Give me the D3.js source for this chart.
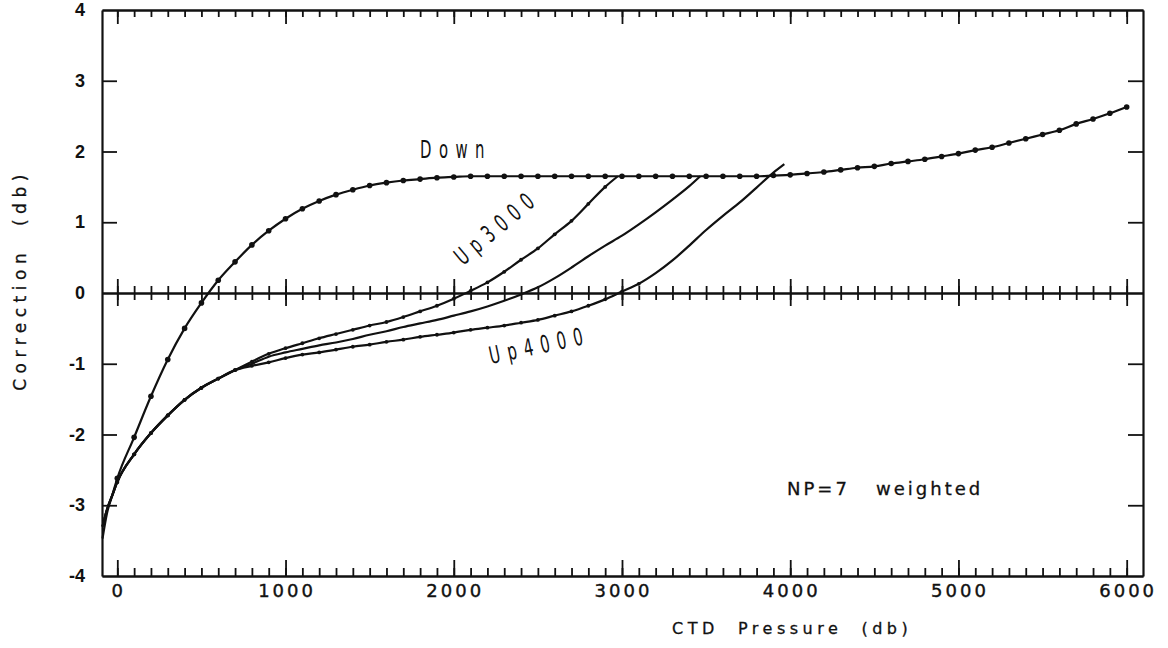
<!DOCTYPE html>
<html>
<head>
<meta charset="utf-8">
<script src="https://cdn.jsdelivr.net/npm/d3@7"></script>
<style>
  body { margin: 0; background: #fff; }
  svg { display: block; }
  .axis path, .axis line { stroke: #111; }
  .axis path { stroke-width: 2.2; }
  .axis line { stroke-width: 1.8; }
</style>
</head>
<body>
<svg id="visualisation" width="1168" height="648"></svg>
<script>
// tick labels
var xTickLabels = [0, 1000, 2000, 3000, 4000, 5000, 6000];
var xMinorTicks = [0, 100, 200, 300, 400, 500, 600, 700, 800, 900, 1000, 1100, 1200, 1300, 1400, 1500, 1600, 1700, 1800, 1900,
    2000, 2100, 2200, 2300, 2400, 2500, 2600, 2700, 2800, 2900, 3000, 3100, 3200, 3300, 3400, 3500, 3600, 3700, 3800, 3900,
    4000, 4100, 4200, 4300, 4400, 4500, 4600, 4700, 4800, 4900, 5000, 5100, 5200, 5300, 5400, 5500, 5600, 5700, 5800, 5900, 6000];
var yTickLabels = [4, 3, 2, 1, 0, -1, -2, -3, -4];

// series: [CTD pressure (db), correction (db)]
var downPts = [[-88, -3.47], [-60, -3.1], [-30, -2.86], [0, -2.62], [100, -2.04], [200, -1.46], [300, -0.94], [400, -0.5],
    [500, -0.14], [600, 0.18], [700, 0.44], [800, 0.68], [900, 0.88], [1000, 1.05], [1100, 1.19], [1200, 1.3], [1300, 1.39],
    [1400, 1.46], [1500, 1.52], [1600, 1.56], [1700, 1.59], [1800, 1.61], [1900, 1.63], [2000, 1.64], [2100, 1.65],
    [2200, 1.65], [2300, 1.65], [2400, 1.65], [2500, 1.65], [2600, 1.65], [2700, 1.65], [2800, 1.65], [2900, 1.65],
    [3000, 1.65], [3100, 1.65], [3200, 1.65], [3300, 1.65], [3400, 1.65], [3500, 1.65], [3600, 1.65], [3700, 1.65],
    [3800, 1.65], [3900, 1.66], [4000, 1.67], [4100, 1.69], [4200, 1.71], [4300, 1.74], [4400, 1.77], [4500, 1.79],
    [4600, 1.83], [4700, 1.86], [4800, 1.89], [4900, 1.93], [5000, 1.97], [5100, 2.02], [5200, 2.06], [5300, 2.12],
    [5400, 2.18], [5500, 2.24], [5600, 2.3], [5700, 2.39], [5800, 2.46], [5900, 2.54], [6000, 2.63]];

var up3000Pts = [[-88, -3.3], [-60, -3.05], [-30, -2.86], [0, -2.67], [100, -2.28], [200, -1.98], [300, -1.73], [400, -1.51],
    [500, -1.34], [600, -1.21], [700, -1.09], [800, -0.97], [900, -0.86], [1000, -0.78], [1100, -0.71], [1200, -0.64],
    [1300, -0.58], [1400, -0.52], [1500, -0.46], [1600, -0.41], [1700, -0.34], [1800, -0.26], [1900, -0.18], [2000, -0.08],
    [2100, 0.03], [2200, 0.15], [2300, 0.3], [2400, 0.47], [2500, 0.63], [2600, 0.83], [2700, 1.02], [2800, 1.26],
    [2900, 1.5], [2975, 1.65]];

var up3500Pts = [[-88, -3.3], [-60, -3.05], [-30, -2.86], [0, -2.67], [100, -2.28], [200, -1.98], [300, -1.73], [400, -1.51],
    [500, -1.34], [600, -1.21], [700, -1.09], [800, -1.0], [900, -0.9], [1000, -0.84], [1100, -0.79], [1200, -0.74],
    [1300, -0.7], [1400, -0.65], [1500, -0.59], [1600, -0.54], [1700, -0.48], [1800, -0.43], [1900, -0.38], [2000, -0.32],
    [2100, -0.26], [2200, -0.19], [2300, -0.11], [2400, -0.02], [2500, 0.08], [2600, 0.21], [2700, 0.36], [2800, 0.52],
    [2900, 0.67], [3000, 0.81], [3100, 0.97], [3200, 1.14], [3300, 1.32], [3400, 1.51], [3465, 1.65]];

var up4000Pts = [[-88, -3.3], [-60, -3.05], [-30, -2.86], [0, -2.67], [100, -2.28], [200, -1.98], [300, -1.73], [400, -1.51],
    [500, -1.34], [600, -1.21], [700, -1.09], [800, -1.03], [900, -0.98], [1000, -0.92], [1100, -0.87], [1200, -0.84],
    [1300, -0.8], [1400, -0.76], [1500, -0.73], [1600, -0.69], [1700, -0.66], [1800, -0.62], [1900, -0.59], [2000, -0.56],
    [2100, -0.52], [2200, -0.49], [2300, -0.46], [2400, -0.42], [2500, -0.38], [2600, -0.32], [2700, -0.26], [2800, -0.18],
    [2900, -0.09], [3000, 0.02], [3100, 0.13], [3200, 0.28], [3300, 0.46], [3400, 0.67], [3500, 0.89], [3600, 1.09],
    [3700, 1.28], [3800, 1.49], [3900, 1.7], [3965, 1.82]];

var initchart = function () {
    var vis = d3.select("#visualisation"),
        xScale = d3.scaleLinear().domain([-91, 6097]).range([102, 1143]),
        yScale = d3.scaleLinear().domain([-4, 4]).range([576, 10]),
        majorTicks = xTickLabels,
        yInner = yTickLabels.filter(function (d) { return d !== 0 && Math.abs(d) !== 4; }),
        font = "'DejaVu Sans', sans-serif";

    // bottom frame + ticks pointing up
    vis.append("g").attr("class", "axis")
        .attr("transform", "translate(0," + yScale(-4) + ")")
        .call(d3.axisTop(xScale).tickValues(xMinorTicks).tickSize(8).tickSizeOuter(0).tickFormat(""));
    vis.append("g").attr("class", "axis")
        .attr("transform", "translate(0," + yScale(-4) + ")")
        .call(d3.axisTop(xScale).tickValues(majorTicks).tickSize(16).tickSizeOuter(0).tickFormat(""));
    // top frame + ticks pointing down
    vis.append("g").attr("class", "axis")
        .attr("transform", "translate(0," + yScale(4) + ")")
        .call(d3.axisBottom(xScale).tickValues(xMinorTicks).tickSize(7).tickSizeOuter(0).tickFormat(""));
    vis.append("g").attr("class", "axis")
        .attr("transform", "translate(0," + yScale(4) + ")")
        .call(d3.axisBottom(xScale).tickValues(majorTicks).tickSize(14).tickSizeOuter(0).tickFormat(""));
    // left and right frames
    vis.append("g").attr("class", "axis")
        .attr("transform", "translate(" + xScale.range()[0] + ",0)")
        .call(d3.axisRight(yScale).tickValues(yInner).tickSize(15).tickSizeOuter(0).tickFormat(""));
    vis.append("g").attr("class", "axis")
        .attr("transform", "translate(" + xScale.range()[1] + ",0)")
        .call(d3.axisLeft(yScale).tickValues(yInner).tickSize(15).tickSizeOuter(0).tickFormat(""));
    // zero line, ticks crossing both sides
    var zMinor = vis.append("g").attr("class", "axis")
        .attr("transform", "translate(0," + yScale(0) + ")")
        .call(d3.axisBottom(xScale).tickValues(xMinorTicks).tickSize(7).tickSizeOuter(0).tickFormat(""));
    zMinor.selectAll(".tick line").attr("y1", -7);
    var zMajor = vis.append("g").attr("class", "axis")
        .attr("transform", "translate(0," + yScale(0) + ")")
        .call(d3.axisBottom(xScale).tickValues(majorTicks).tickSize(13).tickSizeOuter(0).tickFormat(""));
    zMajor.selectAll(".tick line").attr("y1", -14);

    // tick labels
    vis.append("g").selectAll("text").data(xTickLabels).enter().append("text")
        .attr("x", function (d) { return xScale(d) + 1.5; })
        .attr("y", 597)
        .attr("text-anchor", "middle")
        .attr("font-family", font).attr("font-size", 18).attr("letter-spacing", 3)
        .attr("fill", "#111").attr("stroke", "#111").attr("stroke-width", 0.4)
        .text(function (d) { return d; });
    vis.append("g").selectAll("text").data(yTickLabels).enter().append("text")
        .attr("x", 85)
        .attr("y", function (d) { return yScale(d) + 6; })
        .attr("text-anchor", "end")
        .attr("font-family", "'Liberation Sans', Arial, sans-serif").attr("font-weight", "bold").attr("font-size", 18)
        .attr("fill", "#111")
        .text(function (d) { return d; });

    // axis titles
    vis.append("text")
        .attr("x", 672).attr("y", 634)
        .attr("font-family", font).attr("font-size", 16).attr("letter-spacing", 4.5)
        .style("white-space", "pre").attr("fill", "#111").attr("stroke", "#111").attr("stroke-width", 0.3)
        .text("CTD  Pressure  (db)");
    vis.append("text")
        .attr("transform", "translate(26,280) rotate(-90)")
        .attr("text-anchor", "middle")
        .attr("font-family", font).attr("font-size", 17).attr("letter-spacing", 5.5)
        .style("white-space", "pre").attr("fill", "#111").attr("stroke", "#111").attr("stroke-width", 0.3)
        .text("Correction  (db)");

    // curves
    var lineGen = d3.line()
        .x(function (d) { return xScale(d[0]); })
        .y(function (d) { return yScale(d[1]); })
        .curve(d3.curveMonotoneX);
    var series = [
        { pts: downPts, r: 2.8, markMax: 6000 },
        { pts: up3000Pts, r: 1.9, markMax: 2900 },
        { pts: up3500Pts, r: 1.9, markMax: 700 },
        { pts: up4000Pts, r: 1.9, markMax: 3100 }
    ];
    series.forEach(function (s) {
        vis.append("path")
            .attr("d", lineGen(s.pts))
            .attr("stroke", "#111")
            .attr("stroke-width", 2.2)
            .attr("fill", "none");
        vis.append("g").selectAll("circle")
            .data(s.pts.filter(function (d) { return d[0] >= 0 && d[0] <= s.markMax && d[0] % 100 === 0; }))
            .enter().append("circle")
            .attr("cx", function (d) { return xScale(d[0]); })
            .attr("cy", function (d) { return yScale(d[1]); })
            .attr("r", s.r)
            .attr("fill", "#111");
    });

    // curve labels (narrow plotter lettering)
    var labels = [
        { text: "Down", tr: "translate(420,158)" },
        { text: "Up3000", tr: "translate(463,266) rotate(-40)" },
        { text: "Up4000", tr: "translate(491,364) rotate(-12)" }
    ];
    vis.append("g").selectAll("text").data(labels).enter().append("text")
        .attr("transform", function (d) { return d.tr + " scale(0.62,1)"; })
        .attr("font-family", font).attr("font-size", 24).attr("letter-spacing", 12)
        .attr("fill", "#111")
        .text(function (d) { return d.text; });

    vis.append("text")
        .attr("x", 787).attr("y", 495)
        .attr("font-family", font).attr("font-size", 18).attr("letter-spacing", 3)
        .style("white-space", "pre").attr("fill", "#111").attr("stroke", "#111").attr("stroke-width", 0.3)
        .text("NP=7   weighted");
};

initchart();
</script>
</body>
</html>
